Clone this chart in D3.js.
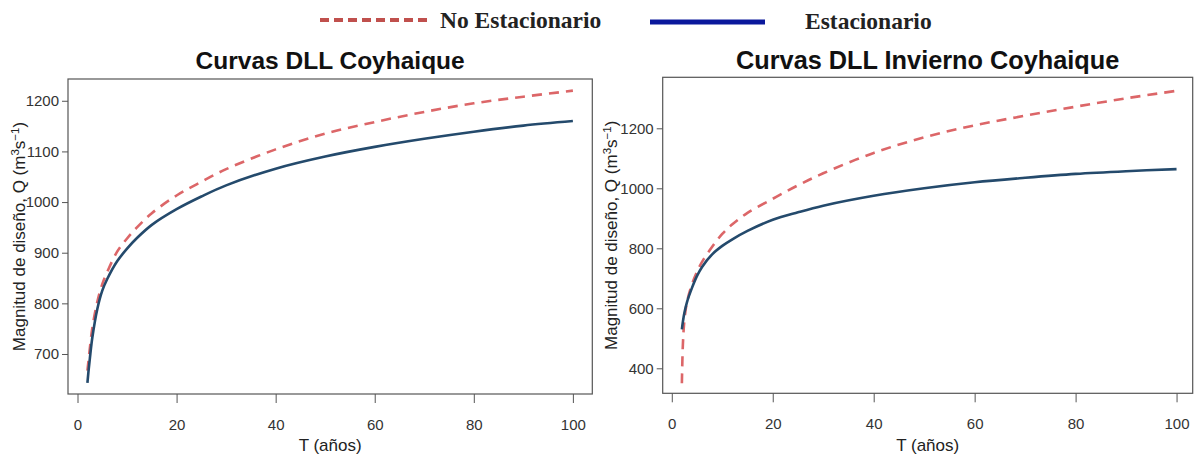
<!DOCTYPE html>
<html>
<head>
<meta charset="utf-8">
<script src="https://cdn.jsdelivr.net/npm/d3@7"></script>
<style>
  body { margin: 0; background: #fff; }
  svg { display: block; }
  .tick text { font-family: Arial, "Liberation Sans", sans-serif; font-size: 15px; fill: #333; }
  .tick line { stroke: #555; }
  .title { font-family: Arial, "Liberation Sans", sans-serif; font-weight: bold; fill: #111; }
  .axis-label { font-family: Arial, "Liberation Sans", sans-serif; font-size: 17px; fill: #222; }
  .legend-text { font-family: "Liberation Serif", "Times New Roman", serif; font-weight: bold; font-size: 23.5px; fill: #222; }
</style>
</head>
<body>
<div id="chart"></div>
<script>
// return periods (años)
const returnPeriods = [2, 2.2, 2.5, 3, 4, 5, 6, 8, 10, 12, 15, 20, 25, 30, 40, 50, 60, 70, 80, 90, 100];

// Curvas DLL Coyhaique
const coyEstacionario   = [643, 664, 692, 733, 789, 825, 848, 883, 908, 929, 955, 986, 1011, 1033, 1066, 1090, 1109, 1125, 1139, 1151, 1160];
const coyNoEstacionario = [667, 685, 712, 752, 803, 838, 862, 902, 928, 950, 978, 1013, 1040, 1065, 1104, 1135, 1158, 1178, 1195, 1208, 1220];

// Curvas DLL Invierno Coyhaique
const invEstacionario   = [530, 555, 585, 620, 668, 708, 738, 780, 808, 830, 858, 895, 920, 942, 975, 1000, 1020, 1035, 1048, 1057, 1064];
const invNoEstacionario = [350, 480, 560, 620, 680, 722, 755, 805, 848, 880, 918, 965, 1010, 1050, 1118, 1170, 1210, 1242, 1272, 1300, 1325];

const xTicks = [0, 20, 40, 60, 80, 100];
const coyYTicks = [700, 800, 900, 1000, 1100, 1200];
const invYTicks = [400, 600, 800, 1000, 1200];

const seriesNames = ['No Estacionario', 'Estacionario'];

const width = 1203, height = 457;
const svg = d3.select('#chart').append('svg').attr('width', width).attr('height', height);

// legend
const legend = svg.append('g');
legend.append('line')
  .attr('x1', 320).attr('x2', 428).attr('y1', 20).attr('y2', 20)
  .attr('stroke', '#c0504d').attr('stroke-width', 4).attr('stroke-dasharray', '9,5');
legend.append('text').attr('class', 'legend-text').attr('x', 440).attr('y', 28).text(seriesNames[0]);
legend.append('line')
  .attr('x1', 650).attr('x2', 765).attr('y1', 22).attr('y2', 22)
  .attr('stroke', '#0a189c').attr('stroke-width', 5);
legend.append('text').attr('class', 'legend-text').attr('x', 805).attr('y', 29).text(seriesNames[1]);

function drawPanel(opts) {
  const x = d3.scaleLinear().domain(opts.xDomain).range([opts.left, opts.right]);
  const y = d3.scaleLinear().domain(opts.yDomain).range([opts.bottom, opts.top]);
  const g = svg.append('g');

  g.append('rect')
    .attr('x', opts.left).attr('y', opts.top)
    .attr('width', opts.right - opts.left).attr('height', opts.bottom - opts.top)
    .attr('fill', 'none').attr('stroke', '#555').attr('stroke-width', 1.2);

  const xAxis = d3.axisBottom(x).tickValues(xTicks).tickSize(9).tickPadding(16).tickFormat(d3.format('d'));
  g.append('g').attr('transform', 'translate(0,' + opts.bottom + ')').call(xAxis)
    .select('.domain').remove();

  const yAxis = d3.axisLeft(y).tickValues(opts.yTicks).tickSize(6).tickPadding(3).tickFormat(d3.format('d'));
  g.append('g').attr('transform', 'translate(' + opts.left + ',0)').call(yAxis)
    .select('.domain').remove();

  const line = d3.line().x((d, i) => x(returnPeriods[i])).y(d => y(d)).curve(d3.curveCatmullRom.alpha(0.5));

  g.append('path').datum(opts.nonStationary)
    .attr('d', line).attr('fill', 'none')
    .attr('stroke', '#dc6668').attr('stroke-width', 2.6).attr('stroke-dasharray', '10,7');
  g.append('path').datum(opts.stationary)
    .attr('d', line).attr('fill', 'none')
    .attr('stroke', '#244a6c').attr('stroke-width', 2.6);

  const cx = (opts.left + opts.right) / 2;
  g.append('text').attr('class', 'title').attr('text-anchor', 'middle')
    .attr('font-size', opts.titleSize + 'px')
    .attr('x', cx).attr('y', 69).text(opts.title);
  g.append('text').attr('class', 'axis-label').attr('text-anchor', 'middle')
    .attr('x', cx).attr('y', 451).text('T (años)');

  const yl = g.append('text').attr('class', 'axis-label').attr('text-anchor', 'middle')
    .attr('transform', 'translate(' + opts.yLabelX + ',' + (opts.top + opts.bottom) / 2 + ') rotate(-90)');
  yl.append('tspan').text('Magnitud de diseño, Q (m');
  yl.append('tspan').attr('baseline-shift', 'super').attr('font-size', '11.5px').text('3');
  yl.append('tspan').text('s');
  yl.append('tspan').attr('baseline-shift', 'super').attr('font-size', '11.5px').text('\u22121');
  yl.append('tspan').text(')');
}

drawPanel({
  title: 'Curvas DLL Coyhaique', titleSize: 24.5,
  left: 68, right: 592.3, top: 79, bottom: 394,
  xDomain: [-1.92, 103.92], yDomain: [621, 1243],
  yTicks: coyYTicks, yLabelX: 25,
  stationary: coyEstacionario, nonStationary: coyNoEstacionario
});

drawPanel({
  title: 'Curvas DLL Invierno Coyhaique', titleSize: 25.3,
  left: 662.7, right: 1192.7, top: 77.3, bottom: 393.3,
  xDomain: [-1.8, 103.2], yDomain: [316.7, 1370],
  yTicks: invYTicks, yLabelX: 617,
  stationary: invEstacionario, nonStationary: invNoEstacionario
});
</script>
</body>
</html>
